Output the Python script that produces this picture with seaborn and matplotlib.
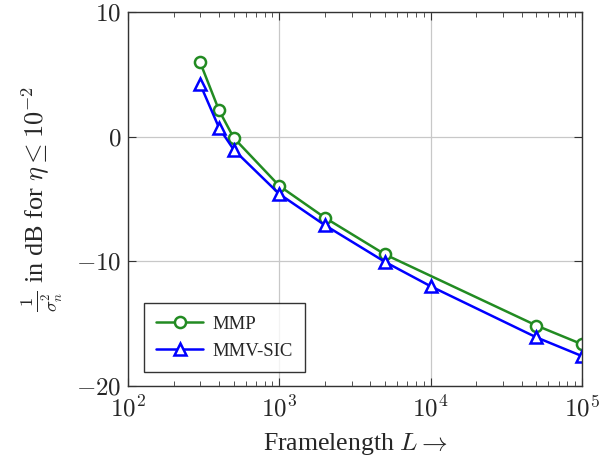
import numpy as np
import pandas as pd
import seaborn as sns
import matplotlib.pyplot as plt
from matplotlib.ticker import LogLocator, FixedLocator, FuncFormatter, NullFormatter

# MMP curve
mmp_L = [300, 400, 500, 1000, 2000, 5000, 50000, 100000]
mmp_db = [5.95, 2.1, -0.1, -3.95, -6.5, -9.45, -15.15, -16.65]

# MMV-SIC curve
sic_L = [300, 400, 500, 1000, 2000, 5000, 10000, 50000, 100000]
sic_db = [4.2, 0.7, -1.05, -4.6, -7.1, -10.05, -12.0, -16.1, -17.6]

sns.set_style('ticks')
plt.rcParams['font.family'] = ['Liberation Serif', 'DejaVu Serif']
plt.rcParams['mathtext.fontset'] = 'cm'

fig = plt.figure(figsize=(6.13, 4.65), dpi=100)
ax = fig.add_axes([0.2088, 0.1699, 0.7406, 0.8043])

for L, db, name, col, mk in [(mmp_L, mmp_db, 'MMP', '#228b22', 'o'),
                             (sic_L, sic_db, 'MMV-SIC', '#0000ff', '^')]:
    sns.lineplot(x=L, y=db, ax=ax, color=col, label=name, marker=mk,
                 markersize=8, markeredgewidth=1.8, markerfacecolor='white',
                 markeredgecolor=col, linewidth=1.8)

ax.set_xscale('log')
ax.set_xlim(1e2, 1e5)
ax.set_ylim(-20, 10)
ax.xaxis.set_major_locator(FixedLocator([1e2, 1e3, 1e4, 1e5]))
ax.xaxis.set_minor_locator(LogLocator(base=10, subs=np.arange(2, 10)))
ax.xaxis.set_minor_formatter(NullFormatter())
ax.xaxis.set_major_formatter(FuncFormatter(lambda v, p: r'$10^{%d}$' % round(np.log10(v))))
ax.yaxis.set_major_locator(FixedLocator([-20, -10, 0, 10]))
ax.yaxis.set_major_formatter(FuncFormatter(lambda v, p: r'$%d$' % v))

ax.grid(True, which='major', color='#c8c8c8', linewidth=0.9)
ax.tick_params(which='both', direction='in', top=True, right=True, labelsize=18, color='#333333')
ax.tick_params(which='major', length=6)
ax.tick_params(which='minor', length=3.5)
ax.tick_params(axis='x', pad=7)
ax.tick_params(axis='y', pad=5)
for s in ax.spines.values():
    s.set_linewidth(1.0)
    s.set_color('#333333')

ax.set_xlabel(r'Framelength $L \rightarrow$', fontsize=18.5, labelpad=7)
ax.set_ylabel(r'$\frac{1}{\sigma_n^2}$ in dB for $\eta \leq 10^{-2}$', fontsize=19, labelpad=8)

leg = ax.legend(loc='lower left', bbox_to_anchor=(0.015, 0.012),
                fontsize=13.5, frameon=True, fancybox=False, edgecolor='black',
                handlelength=2.5, handletextpad=0.5, borderpad=0.65, labelspacing=0.55)
leg.get_frame().set_linewidth(1.0)

plt.savefig('out.png', dpi=100)
